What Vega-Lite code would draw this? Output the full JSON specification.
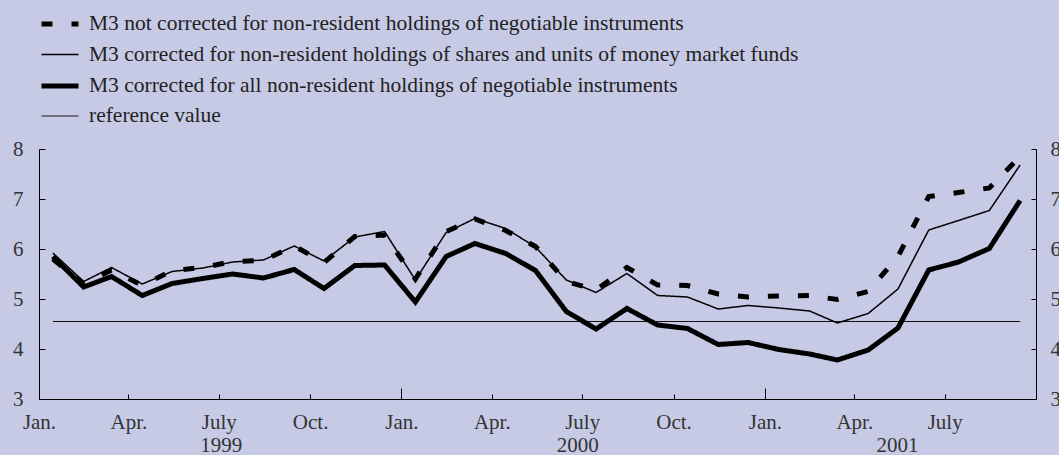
{
  "$schema": "https://vega.github.io/schema/vega-lite/v6.json",
  "width": 997,
  "height": 250,
  "autosize": {"type": "none"},
  "padding": {"left": 39, "top": 149, "right": 23, "bottom": 56},
  "background": "#c6cae5",
  "config": {
    "font": "Liberation Serif",
    "view": {"stroke": null},
    "axis": {"labelFont": "Liberation Serif", "labelFontSize": 21, "labelColor": "#333333", "domainColor": "#000000", "tickColor": "#000000", "grid": false, "title": null},
    "legend": {"labelFont": "Liberation Serif", "labelFontSize": 21.5, "labelColor": "#222222"}
  },
  "data": {
    "values": [
      {"date": "1999-01-15", "A": 5.80, "B": 5.92, "C": 5.85},
      {"date": "1999-02-15", "A": 5.30, "B": 5.35, "C": 5.24},
      {"date": "1999-03-15", "A": 5.58, "B": 5.63, "C": 5.45},
      {"date": "1999-04-15", "A": 5.27, "B": 5.30, "C": 5.07},
      {"date": "1999-05-15", "A": 5.57, "B": 5.55, "C": 5.31},
      {"date": "1999-06-15", "A": 5.63, "B": 5.62, "C": 5.41},
      {"date": "1999-07-15", "A": 5.75, "B": 5.74, "C": 5.50},
      {"date": "1999-08-15", "A": 5.77, "B": 5.78, "C": 5.42},
      {"date": "1999-09-15", "A": 6.06, "B": 6.06, "C": 5.59},
      {"date": "1999-10-15", "A": 5.73, "B": 5.76, "C": 5.21},
      {"date": "1999-11-15", "A": 6.25, "B": 6.24, "C": 5.67},
      {"date": "1999-12-15", "A": 6.28, "B": 6.35, "C": 5.68},
      {"date": "2000-01-15", "A": 5.40, "B": 5.38, "C": 4.94},
      {"date": "2000-02-15", "A": 6.35, "B": 6.33, "C": 5.85},
      {"date": "2000-03-15", "A": 6.60, "B": 6.61, "C": 6.11},
      {"date": "2000-04-15", "A": 6.37, "B": 6.41, "C": 5.91},
      {"date": "2000-05-15", "A": 6.05, "B": 6.04, "C": 5.57},
      {"date": "2000-06-15", "A": 5.35, "B": 5.38, "C": 4.75},
      {"date": "2000-07-15", "A": 5.18, "B": 5.13, "C": 4.40},
      {"date": "2000-08-15", "A": 5.63, "B": 5.51, "C": 4.81},
      {"date": "2000-09-15", "A": 5.28, "B": 5.07, "C": 4.48},
      {"date": "2000-10-15", "A": 5.27, "B": 5.04, "C": 4.41},
      {"date": "2000-11-15", "A": 5.10, "B": 4.80, "C": 4.09},
      {"date": "2000-12-15", "A": 5.04, "B": 4.87, "C": 4.13},
      {"date": "2001-01-15", "A": 5.06, "B": 4.82, "C": 3.99},
      {"date": "2001-02-15", "A": 5.07, "B": 4.76, "C": 3.90},
      {"date": "2001-03-15", "A": 4.99, "B": 4.52, "C": 3.78},
      {"date": "2001-04-15", "A": 5.15, "B": 4.71, "C": 3.98},
      {"date": "2001-05-15", "A": 5.85, "B": 5.20, "C": 4.42},
      {"date": "2001-06-15", "A": 7.05, "B": 6.38, "C": 5.58},
      {"date": "2001-07-15", "A": 7.13, "B": 6.57, "C": 5.74},
      {"date": "2001-08-15", "A": 7.22, "B": 6.77, "C": 6.01},
      {"date": "2001-09-15", "A": 7.85, "B": 7.68, "C": 6.97}
    ]
  },
  "transform": [
    {"fold": ["A", "B", "C"], "as": ["key", "value"]},
    {"lookup": "key", "from": {"data": {"values": [
      {"key": "A", "series": "M3 not corrected for non-resident holdings of negotiable instruments"},
      {"key": "B", "series": "M3 corrected for non-resident holdings of shares and units of money market funds"},
      {"key": "C", "series": "M3 corrected for all non-resident holdings of negotiable instruments"}
    ]}, "key": "key", "fields": ["series"]}}
  ],
  "encoding": {
    "x": {"field": "date", "type": "temporal", "scale": {"type": "utc", "domain": [{"year": 1999, "month": 1, "date": 1, "utc": true}, {"year": 2001, "month": 10, "date": 1, "utc": true}]}},
    "y": {"field": "value", "type": "quantitative", "scale": {"domain": [3, 8], "nice": false, "zero": false}},
    "color": {"value": "#000000"},
    "strokeDash": {"field": "series", "type": "nominal", "scale": {"type": "ordinal", "domain": [
      "M3 not corrected for non-resident holdings of negotiable instruments",
      "M3 corrected for non-resident holdings of shares and units of money market funds",
      "M3 corrected for all non-resident holdings of negotiable instruments",
      "reference value"], "range": [[11, 19], [1, 0], [1, 0], [1, 0]]},
      "legend": {"orient": "none", "legendX": 0, "legendY": -146, "title": null, "symbolType": "stroke", "symbolSize": 1369, "symbolStrokeColor": "#000000", "labelOffset": 8, "rowPadding": -2.8, "labelLimit": 0, "padding": 0}},
    "strokeWidth": {"field": "series", "type": "nominal", "scale": {"type": "ordinal", "domain": [
      "M3 not corrected for non-resident holdings of negotiable instruments",
      "M3 corrected for non-resident holdings of shares and units of money market funds",
      "M3 corrected for all non-resident holdings of negotiable instruments",
      "reference value"], "range": [5, 1.5, 5, 1]},
      "legend": {"orient": "none", "legendX": 0, "legendY": -146, "title": null, "symbolType": "stroke", "symbolSize": 1369, "symbolStrokeColor": "#000000", "labelOffset": 8, "rowPadding": -2.8, "labelLimit": 0, "padding": 0}}
  },
  "layer": [
    {
      "data": {"values": [
        {"date": "1999-01-15", "series": "reference value", "value": 4.55},
        {"date": "2001-09-15", "series": "reference value", "value": 4.55}
      ]},
      "transform": [],
      "mark": {"type": "line"},
      "encoding": {
        "x": {"field": "date", "type": "temporal", "axis": {"orient": "bottom", "values": [
          {"year": 2000, "month": 1, "date": 1, "utc": true}, {"year": 2001, "month": 1, "date": 1, "utc": true}],
          "labels": false, "domain": false, "tickSize": -11, "tickWidth": 1}},
        "y": {"field": "value", "type": "quantitative", "axis": {"orient": "right", "values": [3, 4, 5, 6, 7, 8], "tickSize": -5, "labelPadding": 19, "domainWidth": 1}}
      }
    },
    {
      "transform": [{"filter": "datum.key == 'C'"}],
      "mark": {"type": "line"},
      "encoding": {
        "x": {"field": "date", "type": "temporal", "axis": {"orient": "bottom", "values": [
          {"year": 1999, "month": 1, "date": 1, "utc": true}, {"year": 1999, "month": 4, "date": 1, "utc": true}, {"year": 1999, "month": 7, "date": 1, "utc": true}, {"year": 1999, "month": 10, "date": 1, "utc": true},
          {"year": 2000, "month": 1, "date": 1, "utc": true}, {"year": 2000, "month": 4, "date": 1, "utc": true}, {"year": 2000, "month": 7, "date": 1, "utc": true}, {"year": 2000, "month": 10, "date": 1, "utc": true},
          {"year": 2001, "month": 1, "date": 1, "utc": true}, {"year": 2001, "month": 4, "date": 1, "utc": true}, {"year": 2001, "month": 7, "date": 1, "utc": true}],
          "labelExpr": "utcmonth(datum.value) == 0 ? 'Jan.' : utcmonth(datum.value) == 3 ? 'Apr.' : utcmonth(datum.value) == 6 ? 'July' : 'Oct.'",
          "tickSize": -5, "labelPadding": 17, "labelFlush": false, "labelOverlap": false, "labelBound": false, "domainWidth": 1}},
        "y": {"field": "value", "type": "quantitative", "axis": {"orient": "left", "values": [3, 4, 5, 6, 7, 8], "tickSize": -6, "labelPadding": 22, "domainWidth": 1}}
      }
    },
    {
      "transform": [{"filter": "datum.key == 'B'"}],
      "mark": {"type": "line"},
      "encoding": {
        "x": {"field": "date", "type": "temporal", "axis": {"orient": "bottom", "values": [
          {"year": 1999, "month": 7, "date": 3, "utc": true}, {"year": 2000, "month": 6, "date": 26, "utc": true}, {"year": 2001, "month": 5, "date": 14, "utc": true}],
          "labelExpr": "utcFormat(datum.value, '%Y')", "ticks": false, "domain": false, "labelPadding": 35, "labelFlush": false, "labelOverlap": false}},
        "y": {"field": "value", "type": "quantitative", "axis": null}
      }
    },
    {
      "transform": [{"filter": "datum.key == 'A'"}],
      "mark": {"type": "line"},
      "encoding": {
        "x": {"field": "date", "type": "temporal", "axis": null},
        "y": {"field": "value", "type": "quantitative", "axis": null}
      }
    }
  ],
  "resolve": {"axis": {"x": "independent", "y": "independent"}}
}
